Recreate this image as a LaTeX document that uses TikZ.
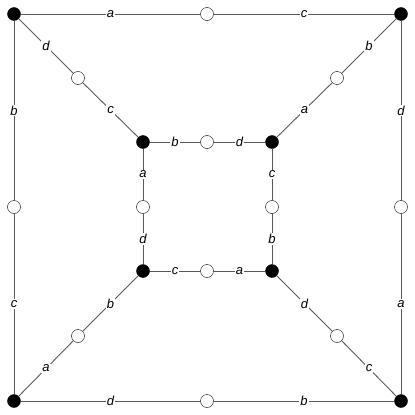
\documentclass[tikz,border=0pt]{standalone}
\usepackage{fontspec}
\setmainfont{Liberation Sans}
\begin{document}
\begin{tikzpicture}[x=1pt, y=-1pt,
    every node/.style={font=\itshape\fontsize{13}{13}\selectfont},
    blackv/.style={circle, draw=black, fill=black, minimum size=13pt, inner sep=0pt},
    whitev/.style={circle, draw=black, fill=white, minimum size=13pt, inner sep=0pt},
    edge/.style={draw=black!65, line width=0.9pt},
    lbl/.style={fill=white, inner sep=1.2pt}]
    \useasboundingbox (0,0) rectangle (415,415);

    % Vértices pretos - quadrado externo
    \node[blackv] (O1) at (14,14) {};
    \node[blackv] (O2) at (401,14) {};
    \node[blackv] (O3) at (401,401) {};
    \node[blackv] (O4) at (14,401) {};

    % Vértices pretos - quadrado interno
    \node[blackv] (I1) at (143,142) {};
    \node[blackv] (I2) at (272,142) {};
    \node[blackv] (I3) at (272,271) {};
    \node[blackv] (I4) at (143,271) {};

    % Vértices brancos - lados externos
    \node[whitev] (top) at (207,14) {};
    \node[whitev] (right) at (401,207) {};
    \node[whitev] (bottom) at (207,401) {};
    \node[whitev] (left) at (14,207) {};

    % Vértices brancos - lados internos
    \node[whitev] (itop) at (207,142) {};
    \node[whitev] (iright) at (272,207) {};
    \node[whitev] (ibottom) at (207,271) {};
    \node[whitev] (ileft) at (143,207) {};

    % Vértices brancos - diagonais
    \node[whitev] (d1) at (78,78) {};
    \node[whitev] (d2) at (337,78) {};
    \node[whitev] (d3) at (337,336) {};
    \node[whitev] (d4) at (78,336) {};

    % Arestas externas
    \draw[edge] (O1) -- node[lbl] {a} (top);
    \draw[edge] (top) -- node[lbl] {c} (O2);
    \draw[edge] (O2) -- node[lbl] {d} (right);
    \draw[edge] (right) -- node[lbl] {a} (O3);
    \draw[edge] (O4) -- node[lbl] {d} (bottom);
    \draw[edge] (bottom) -- node[lbl] {b} (O3);
    \draw[edge] (O1) -- node[lbl] {b} (left);
    \draw[edge] (left) -- node[lbl] {c} (O4);

    % Arestas diagonais
    \draw[edge] (O1) -- node[lbl] {d} (d1);
    \draw[edge] (d1) -- node[lbl] {c} (I1);
    \draw[edge] (O2) -- node[lbl] {b} (d2);
    \draw[edge] (d2) -- node[lbl] {a} (I2);
    \draw[edge] (I3) -- node[lbl] {d} (d3);
    \draw[edge] (d3) -- node[lbl] {c} (O3);
    \draw[edge] (I4) -- node[lbl] {b} (d4);
    \draw[edge] (d4) -- node[lbl] {a} (O4);

    % Arestas internas
    \draw[edge] (I1) -- node[lbl] {b} (itop);
    \draw[edge] (itop) -- node[lbl] {d} (I2);
    \draw[edge] (I2) -- node[lbl] {c} (iright);
    \draw[edge] (iright) -- node[lbl] {b} (I3);
    \draw[edge] (I4) -- node[lbl] {c} (ibottom);
    \draw[edge] (ibottom) -- node[lbl] {a} (I3);
    \draw[edge] (I1) -- node[lbl] {a} (ileft);
    \draw[edge] (ileft) -- node[lbl] {d} (I4);
\end{tikzpicture}
\end{document}
